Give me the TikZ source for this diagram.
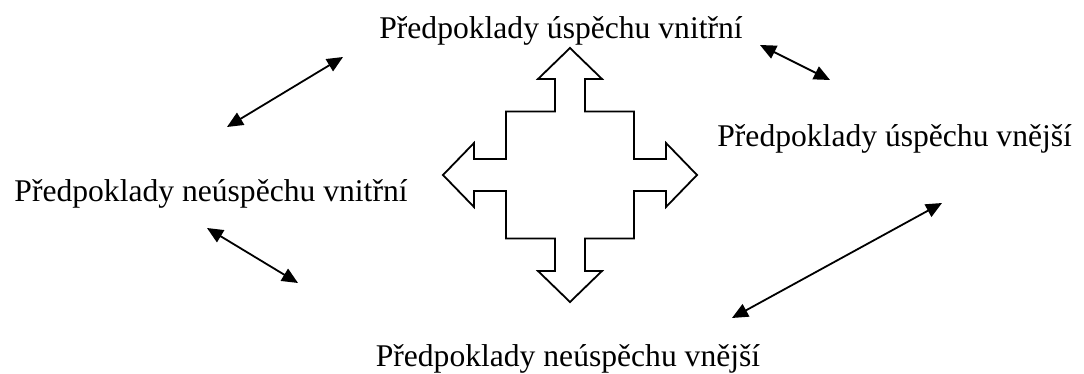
\documentclass[tikz,border=0pt]{standalone}
\usepackage{fontspec}
\setmainfont{Liberation Serif}
\usetikzlibrary{arrows.meta}

\begin{document}
\begin{tikzpicture}[x=0.5pt,y=-0.5pt,
  label/.style={inner sep=0pt,font=\fontsize{15.8}{18}\selectfont},
  link/.style={{Triangle[length=8pt,width=7pt]}-{Triangle[length=8pt,width=7pt]},line width=0.9pt},
  cross/.style={draw,line width=0.9pt,line join=miter}]
  \useasboundingbox (0,0) rectangle (1084,374);

  % texts
  \node[label,anchor=base] (iup) at (561,39) {Předpoklady úspěchu vnitřní};
  \node[label,anchor=base west] (eup) at (717,147) {Předpoklady úspěchu vnější};
  \node[label,anchor=base east] (idown) at (408,202) {Předpoklady neúspěchu vnitřní};
  \node[label,anchor=base] (edown) at (568,366) {Předpoklady neúspěchu vnější};

  % ends of the arrows
  \coordinate (tl1) at (227,127);
  \coordinate (tl2) at (343,57);
  \coordinate (tr1) at (760,45);
  \coordinate (tr2) at (830,80);
  \coordinate (bl1) at (207,228);
  \coordinate (bl2) at (298,283);
  \coordinate (br1) at (732,318);
  \coordinate (br2) at (942,203);

  \draw[link] (tl1) -- (tl2);
  \draw[link] (tr1) -- (tr2);
  \draw[link] (bl1) -- (bl2);
  \draw[link] (br1) -- (br2);

  % the cross of four arrows
  \begin{scope}[shift={(570,175)}]
    \draw[cross] (0,-127) -- (32,-96) -- (15,-96) -- (15,-63.5) -- (64,-63.5)
      -- (64,-16) -- (96,-16) -- (96,-32) -- (127,0) -- (96,32) -- (96,16)
      -- (64,16) -- (64,63.5) -- (15,63.5) -- (15,96) -- (32,96) -- (0,127)
      -- (-32,96) -- (-15,96) -- (-15,63.5) -- (-64,63.5) -- (-64,16)
      -- (-96,16) -- (-96,32) -- (-127,0) -- (-96,-32) -- (-96,-16)
      -- (-64,-16) -- (-64,-63.5) -- (-15,-63.5) -- (-15,-96) -- (-32,-96) -- cycle;
  \end{scope}
\end{tikzpicture}
\end{document}
